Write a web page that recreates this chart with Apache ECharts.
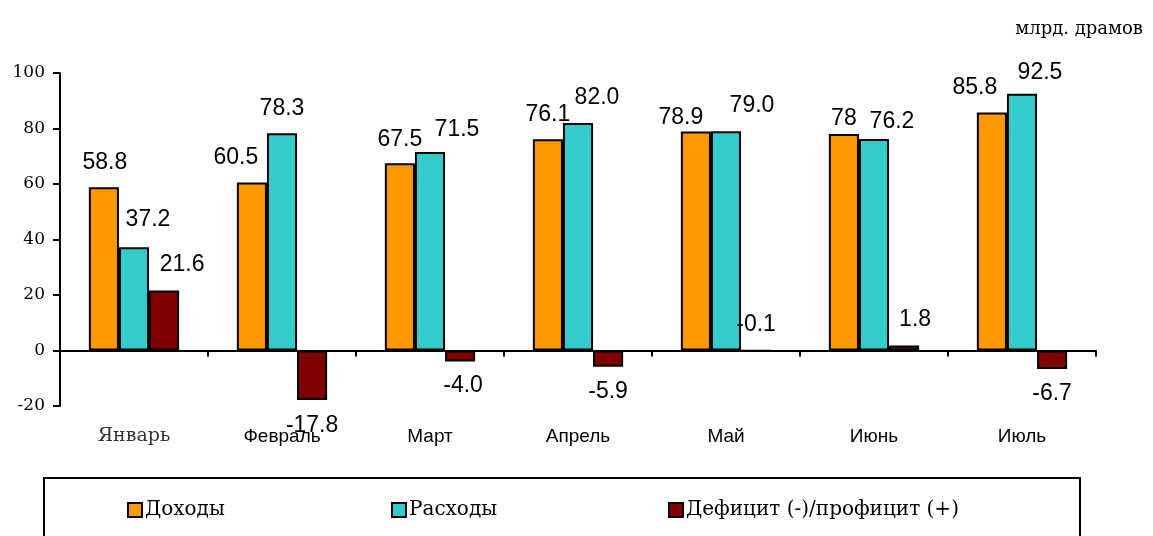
<!DOCTYPE html>
<html>
<head>
<meta charset="utf-8">
<script src="https://cdn.jsdelivr.net/npm/echarts@6/dist/echarts.min.js"></script>
<style>
html,body{margin:0;padding:0;background:#fff;}
#chart{width:1153px;height:536px;}
</style>
</head>
<body>
<div id="chart"></div>
<script>
const categories = ['Январь','Февраль','Март','Апрель','Май','Июнь','Июль'];
const seriesNames = ['Доходы','Расходы','Дефицит (-)/профицит (+)'];
const revenue = ['58.8','60.5','67.5','76.1','78.9','78','85.8'];
const expenses = ['37.2','78.3','71.5','82.0','79.0','76.2','92.5'];
const balance = ['21.6','-17.8','-4.0','-5.9','-0.1','1.8','-6.7'];
const yTicks = [-20, 0, 20, 40, 60, 80, 100];
const unitText = 'млрд. драмов';

// label placement tweaks (style only), [dx, dy] in pixels
const revenueLabelShift = [[1,0],[-16,0],[0,1],[0,0],[-15,11],[0,9],[-17,0]];
const expensesLabelShift = [[14,-3],[0,0],[27,2],[19,-1],[26,-1],[18,7],[18,3]];
const balanceLabelShift = [[18,-1],[0,1],[3,0],[0,0],[0,0],[11,-1],[0,0]];

const colors = ['#FF9900', '#33CCCC', '#800000'];
const SERIF = '"DejaVu Serif", serif';
const SANS = '"Liberation Sans", Arial, sans-serif';

function makeSeries(name, arr, shifts, color) {
  return {
    name: name,
    type: 'bar',
    xAxisIndex: 0,
    barGap: 0,
    barCategoryGap: '39%',
    itemStyle: { color: color, borderColor: '#000', borderWidth: 2 },
    data: arr.map((v, i) => {
      const n = parseFloat(v);
      return {
        value: n,
        label: {
          position: (n < 0 && Math.abs(n) >= 0.5) ? 'bottom' : 'top',
          offset: shifts[i]
        }
      };
    }),
    label: {
      show: true,
      distance: 13,
      color: '#000',
      fontFamily: SANS,
      fontSize: 23,
      formatter: p => arr[p.dataIndex]
    }
  };
}

const chart = echarts.init(document.getElementById('chart'));
chart.setOption({
  animation: false,
  backgroundColor: '#fff',
  title: {
    text: unitText,
    right: 5,
    top: 15,
    textStyle: { fontFamily: SERIF, fontSize: 18, fontWeight: 'normal', color: '#000' }
  },
  grid: { left: 60, right: 57, top: 73, bottom: 130 },
  legend: seriesNames.map((n, i) => ({
    data: [n],
    left: [122, 386, 663][i],
    top: 495,
    itemWidth: 14,
    itemHeight: 14,
    itemGap: 4,
    icon: 'rect',
    textStyle: { fontFamily: SERIF, fontSize: 20, color: '#000', padding: [0, 0, 0, -2] }
  })),
  graphic: [{
    type: 'rect',
    shape: { x: 44, y: 478, width: 1036, height: 80 },
    style: { fill: 'none', stroke: '#000', lineWidth: 2 },
    silent: true
  }],
  xAxis: [{
    type: 'category',
    data: categories,
    position: 'bottom',
    axisLine: { onZero: true, lineStyle: { color: '#000', width: 2 } },
    axisTick: { show: true, length: 6, lineStyle: { color: '#000', width: 2 } },
    axisLabel: { show: false }
  }, {
    type: 'category',
    data: categories,
    position: 'bottom',
    axisLine: { show: false, onZero: false },
    axisTick: { show: false },
    axisLabel: {
      margin: 21,
      formatter: (v, i) => i === 0 ? '{s|' + v + '}' : '{a|' + v + '}',
      rich: {
        s: { fontFamily: SERIF, fontSize: 19, color: '#333' },
        a: { fontFamily: SANS, fontSize: 19, color: '#000' }
      }
    }
  }],
  yAxis: {
    type: 'value',
    min: yTicks[0],
    max: yTicks[yTicks.length - 1],
    interval: 20,
    axisLine: { show: true, lineStyle: { color: '#000', width: 2 } },
    axisTick: { show: true, length: 7, lineStyle: { color: '#000', width: 2 } },
    splitLine: { show: false },
    axisLabel: { margin: 15, fontFamily: SERIF, fontSize: 17, color: '#000' }
  },
  series: [
    makeSeries(seriesNames[0], revenue, revenueLabelShift, colors[0]),
    makeSeries(seriesNames[1], expenses, expensesLabelShift, colors[1]),
    makeSeries(seriesNames[2], balance, balanceLabelShift, colors[2])
  ]
});
</script>
</body>
</html>
